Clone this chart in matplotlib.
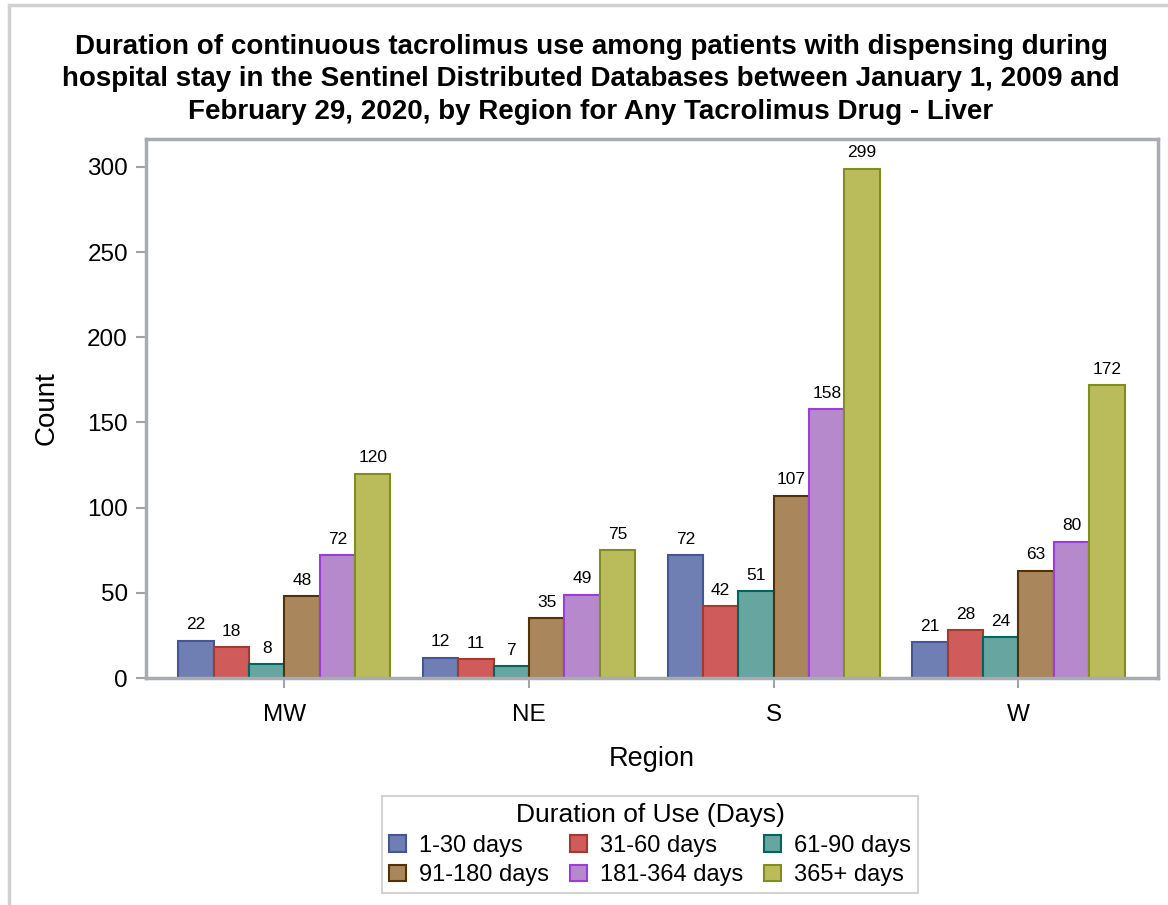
import numpy as np
import matplotlib.pyplot as plt
from matplotlib.patches import Rectangle

plt.rcParams['font.family'] = ['Liberation Sans', 'DejaVu Sans']

regions = ["MW", "NE", "S", "W"]
durations = ["1-30 days", "31-60 days", "61-90 days",
             "91-180 days", "181-364 days", "365+ days"]
counts = {
    "1-30 days":    [22, 12, 72, 21],
    "31-60 days":   [18, 11, 42, 28],
    "61-90 days":   [8, 7, 51, 24],
    "91-180 days":  [48, 35, 107, 63],
    "181-364 days": [72, 49, 158, 80],
    "365+ days":    [120, 75, 299, 172],
}
fills = ["#6F7EB3", "#D05B5B", "#66A5A0", "#A9865B", "#B689CD", "#BABC5C"]
edges = ["#445694", "#A23A2E", "#01665E", "#543005", "#9D3CDB", "#7F8E1F"]

title = ("Duration of continuous tacrolimus use among patients with dispensing during\n"
         "hospital stay in the Sentinel Distributed Databases between January 1, 2009 and\n"
         "February 29, 2020, by Region for Any Tacrolimus Drug - Liver")

fig = plt.figure(figsize=(11.68, 9.05), dpi=100)
ax = fig.add_axes([146 / 1168, 1 - 678 / 905, (1158 - 146) / 1168, (678 - 139) / 905])

# outer border of the image
fig.patches.append(Rectangle((9 / 1168, -0.05), 1.2, 1 - 5 / 905 + 0.05,
                             transform=fig.transFigure, fill=False,
                             edgecolor="#D0D0D0", linewidth=2.5))

x = np.arange(len(regions))
w = 0.1445
handles = []
for i, d in enumerate(durations):
    pos = x + (i - 2.5) * w
    bars = ax.bar(pos, counts[d], width=w, color=fills[i], edgecolor=edges[i],
                  linewidth=1.5, label=d, zorder=2)
    handles.append(bars)
    for p, v in zip(pos, counts[d]):
        ax.annotate(str(v), (p, v), xytext=(0, 6), textcoords="offset points",
                    ha="center", va="bottom", fontsize=12.5)

ax.set_xlim(-0.565, 3.57)
ax.set_ylim(0, 316.4)
ax.set_xticks(x)
ax.set_xticklabels(regions)
ax.set_yticks([0, 50, 100, 150, 200, 250, 300])
ax.tick_params(axis="both", labelsize=17.5, color="#A0A4A8", width=1.5, length=7)
ax.tick_params(axis="x", pad=12)
ax.tick_params(axis="y", pad=6)
for s in ax.spines.values():
    s.set_color("#A8ACB0")
    s.set_linewidth(2.5)
ax.set_xlabel("Region", fontsize=19.5, labelpad=14)
ax.set_ylabel("Count", fontsize=20, labelpad=20)

fig.text(0.506, 1 - 34 / 905, title, ha="center", va="top", fontsize=20,
         fontweight="bold", linespacing=1.32)

# legend filled row by row like the original
order = [0, 3, 1, 4, 2, 5]
leg = fig.legend([handles[k] for k in order], [durations[k] for k in order],
                 ncol=3, loc="upper center", bbox_to_anchor=(0.5565, 1 - 796 / 905),
                 borderaxespad=0,
                 title="Duration of Use (Days)", title_fontsize=19, fontsize=17,
                 frameon=True, fancybox=False, edgecolor="#C8C8C8",
                 handlelength=0.72, handleheight=0.72, handletextpad=0.55,
                 columnspacing=0.9, labelspacing=0.32, borderpad=0.3)
leg.get_frame().set_linewidth(1.5)

fig.savefig("out.png", dpi=100)
